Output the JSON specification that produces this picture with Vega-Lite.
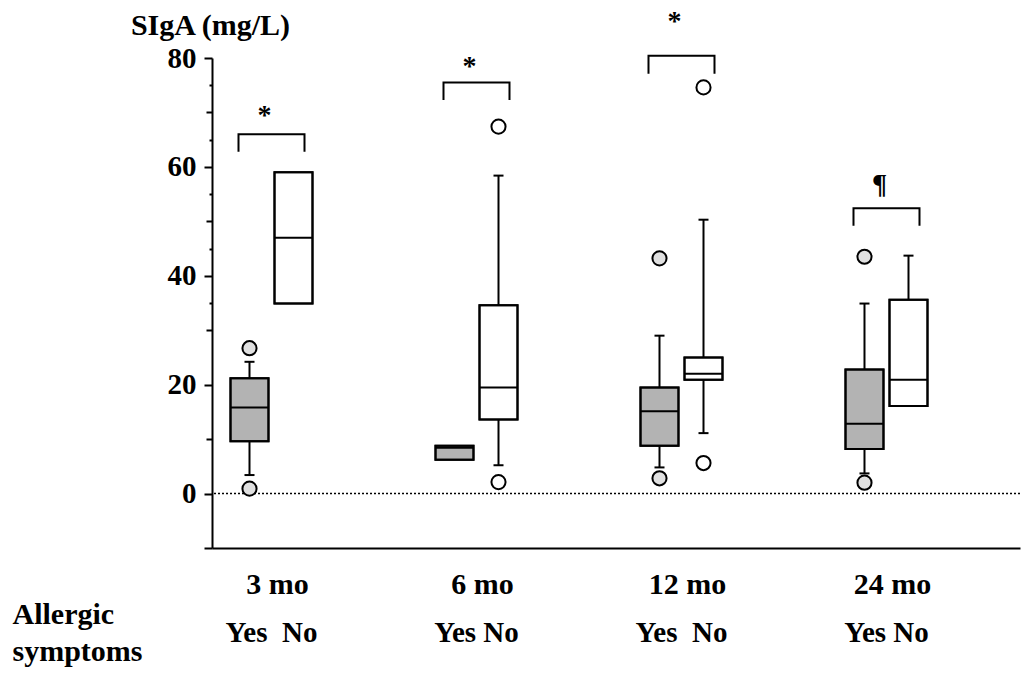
{
  "$schema": "https://vega.github.io/schema/vega-lite/v6.json",
  "width": 808,
  "height": 490,
  "autosize": {"type": "none"},
  "padding": {"left": 212, "top": 58, "right": 6, "bottom": 127},
  "background": "white",
  "config": {"view": {"stroke": null}, "font": "Liberation Serif"},
  "datasets": {
    "boxes": [
      {"time": "3 mo", "group": "Yes", "q1": 9.6, "median": 15.8, "q3": 21.2, "lo": 3.4, "hi": 24.2},
      {"time": "3 mo", "group": "No", "q1": 34.9, "median": 47.0, "q3": 59.0, "lo": null, "hi": null},
      {"time": "6 mo", "group": "Yes", "q1": 6.2, "median": 8.4, "q3": 8.8, "lo": null, "hi": null},
      {"time": "6 mo", "group": "No", "q1": 13.6, "median": 19.5, "q3": 34.6, "lo": 5.2, "hi": 58.4},
      {"time": "12 mo", "group": "Yes", "q1": 8.8, "median": 15.1, "q3": 19.5, "lo": 4.8, "hi": 29.0},
      {"time": "12 mo", "group": "No", "q1": 20.9, "median": 22.0, "q3": 25.0, "lo": 11.1, "hi": 50.3},
      {"time": "24 mo", "group": "Yes", "q1": 8.2, "median": 12.8, "q3": 22.8, "lo": 3.7, "hi": 34.9},
      {"time": "24 mo", "group": "No", "q1": 16.1, "median": 20.9, "q3": 35.6, "lo": null, "hi": 43.7}
    ],
    "outliers": [
      {"time": "3 mo", "group": "Yes", "value": 26.7},
      {"time": "3 mo", "group": "Yes", "value": 0.9},
      {"time": "6 mo", "group": "No", "value": 67.4},
      {"time": "6 mo", "group": "No", "value": 2.1},
      {"time": "12 mo", "group": "Yes", "value": 43.2},
      {"time": "12 mo", "group": "Yes", "value": 2.8},
      {"time": "12 mo", "group": "No", "value": 74.6},
      {"time": "12 mo", "group": "No", "value": 5.6},
      {"time": "24 mo", "group": "Yes", "value": 43.5},
      {"time": "24 mo", "group": "Yes", "value": 2.0}
    ],
    "brackets": [
      {"time": "3 mo", "end": "L", "pt": 1, "level": 62.8},
      {"time": "3 mo", "end": "L", "pt": 2, "level": 66.0},
      {"time": "3 mo", "end": "R", "pt": 3, "level": 66.0},
      {"time": "3 mo", "end": "R", "pt": 4, "level": 62.8},
      {"time": "6 mo", "end": "L", "pt": 1, "level": 72.3},
      {"time": "6 mo", "end": "L", "pt": 2, "level": 75.5},
      {"time": "6 mo", "end": "R", "pt": 3, "level": 75.5},
      {"time": "6 mo", "end": "R", "pt": 4, "level": 72.3},
      {"time": "12 mo", "end": "L", "pt": 1, "level": 77.1},
      {"time": "12 mo", "end": "L", "pt": 2, "level": 80.4},
      {"time": "12 mo", "end": "R", "pt": 3, "level": 80.4},
      {"time": "12 mo", "end": "R", "pt": 4, "level": 77.1},
      {"time": "24 mo", "end": "L", "pt": 1, "level": 49.2},
      {"time": "24 mo", "end": "L", "pt": 2, "level": 52.4},
      {"time": "24 mo", "end": "R", "pt": 3, "level": 52.4},
      {"time": "24 mo", "end": "R", "pt": 4, "level": 49.2}
    ],
    "notes": [
      {"time": "3 mo", "level": 67.9, "label": "*"},
      {"time": "6 mo", "level": 76.9, "label": "*"},
      {"time": "12 mo", "level": 85.1, "label": "*"},
      {"time": "24 mo", "level": 55.2, "label": "¶"}
    ],
    "sublabels": [
      {"time": "3 mo", "label": "Yes\u00a0 No"},
      {"time": "6 mo", "label": "Yes No"},
      {"time": "12 mo", "label": "Yes\u00a0 No"},
      {"time": "24 mo", "label": "Yes No"}
    ]
  },
  "encoding": {
    "x": {
      "field": "time",
      "type": "nominal",
      "sort": ["3 mo", "6 mo", "12 mo", "24 mo"],
      "scale": {"paddingInner": 0.5707, "paddingOuter": 0.2561, "align": 0.1476},
      "axis": {
        "title": ["Allergic", "symptoms"],
        "titleX": -200,
        "titleY": 75,
        "titleAlign": "left",
        "titleBaseline": "alphabetic",
        "titleLineHeight": 37,
        "titleFont": "Liberation Serif",
        "titleFontSize": 30,
        "titleFontWeight": "bold",
        "titleColor": "black",
        "labelAngle": 0,
        "labelFont": "Liberation Serif",
        "labelFontSize": 30,
        "labelFontWeight": "bold",
        "labelColor": "black",
        "labelBaseline": "alphabetic",
        "labelPadding": 45,
        "labelOffset": 6,
        "ticks": false,
        "tickSize": 0,
        "domainColor": "black",
        "domainWidth": 2,
        "grid": false
      }
    }
  },
  "resolve": {"scale": {"xOffset": "independent"}, "axis": {"y": "independent"}},
  "layer": [
    {
      "data": {"name": "boxes"},
      "mark": {"type": "bar", "size": 38, "stroke": "black", "strokeWidth": 2},
      "encoding": {
        "xOffset": {"field": "group", "type": "nominal", "sort": ["Yes", "No"], "scale": {"type": "band", "paddingInner": 0, "paddingOuter": 0}},
        "y": {
          "field": "q1",
          "type": "quantitative",
          "scale": {"domain": [-10, 80], "nice": false, "zero": false},
          "axis": {
            "orient": "left",
            "title": "SIgA (mg/L)",
            "titleAngle": 0,
            "titleAlign": "center",
            "titleBaseline": "alphabetic",
            "titleX": -2,
            "titleY": -24,
            "titleFont": "Liberation Serif",
            "titleFontSize": 30,
            "titleFontWeight": "bold",
            "titleColor": "black",
            "values": [-10, 0, 20, 40, 60, 80],
            "labelExpr": "datum.value >= 0 ? datum.label : ''",
            "labelFont": "Liberation Serif",
            "labelFontSize": 29,
            "labelFontWeight": "bold",
            "labelColor": "black",
            "labelPadding": 8,
            "labelOverlap": false,
            "labelFlush": false,
            "labelBound": false,
            "tickSize": 8,
            "tickColor": "black",
            "tickWidth": 2,
            "domainColor": "black",
            "domainWidth": 2,
            "grid": false
          }
        },
        "y2": {"field": "q3"},
        "fill": {"condition": {"test": "datum.group === 'Yes'", "value": "#b3b3b3"}, "value": "white"}
      }
    },
    {
      "data": {"values": [{"level": 0}]},
      "mark": {"type": "rule", "strokeDash": [2, 2], "strokeWidth": 1.5, "color": "black"},
      "encoding": {
        "x": null,
        "y": {
          "field": "level",
          "type": "quantitative",
          "axis": {"orient": "left", "title": null, "values": [10, 30, 50, 70], "labels": false, "domain": false, "grid": false, "tickSize": 6, "tickWidth": 2, "tickColor": "black"}
        }
      }
    },
    {
      "data": {"name": "boxes"},
      "mark": {"type": "rule", "strokeWidth": 2, "color": "black", "opacity": 1},
      "encoding": {
        "xOffset": {"field": "group", "type": "nominal", "sort": ["Yes", "No"], "scale": {"type": "band", "paddingInner": 0, "paddingOuter": 0}},
        "y": {
          "field": "hi",
          "type": "quantitative",
          "axis": {"orient": "left", "title": null, "values": [35, 45, 55, 65, 75], "labels": false, "domain": false, "grid": false, "tickSize": 3, "tickWidth": 2, "tickColor": "black"}
        },
        "y2": {"field": "q3"}
      }
    },
    {
      "data": {"name": "boxes"},
      "mark": {"type": "rule", "strokeWidth": 2, "color": "black", "opacity": 1},
      "encoding": {
        "xOffset": {"field": "group", "type": "nominal", "sort": ["Yes", "No"], "scale": {"type": "band", "paddingInner": 0, "paddingOuter": 0}},
        "y": {"field": "lo", "type": "quantitative", "axis": null},
        "y2": {"field": "q1"}
      }
    },
    {
      "data": {"name": "boxes"},
      "mark": {"type": "tick", "size": 10, "thickness": 2, "color": "black", "opacity": 1},
      "encoding": {
        "xOffset": {"field": "group", "type": "nominal", "sort": ["Yes", "No"], "scale": {"type": "band", "paddingInner": 0, "paddingOuter": 0}},
        "y": {"field": "hi", "type": "quantitative", "axis": null}
      }
    },
    {
      "data": {"name": "boxes"},
      "mark": {"type": "tick", "size": 10, "thickness": 2, "color": "black", "opacity": 1},
      "encoding": {
        "xOffset": {"field": "group", "type": "nominal", "sort": ["Yes", "No"], "scale": {"type": "band", "paddingInner": 0, "paddingOuter": 0}},
        "y": {"field": "lo", "type": "quantitative", "axis": null}
      }
    },
    {
      "data": {"name": "boxes"},
      "mark": {"type": "bar", "size": 38, "stroke": "black", "strokeWidth": 2, "fillOpacity": 0},
      "encoding": {
        "xOffset": {"field": "group", "type": "nominal", "sort": ["Yes", "No"], "scale": {"type": "band", "paddingInner": 0, "paddingOuter": 0}},
        "y": {"field": "q1", "type": "quantitative", "axis": null},
        "y2": {"field": "q3"}
      }
    },
    {
      "data": {"name": "boxes"},
      "mark": {"type": "tick", "size": 38, "thickness": 2, "color": "black", "opacity": 1},
      "encoding": {
        "xOffset": {"field": "group", "type": "nominal", "sort": ["Yes", "No"], "scale": {"type": "band", "paddingInner": 0, "paddingOuter": 0}},
        "y": {"field": "median", "type": "quantitative", "axis": null}
      }
    },
    {
      "data": {"name": "outliers"},
      "mark": {"type": "point", "shape": "circle", "size": 200, "filled": false, "stroke": "black", "strokeWidth": 2, "opacity": 1},
      "encoding": {
        "xOffset": {"field": "group", "type": "nominal", "sort": ["Yes", "No"], "scale": {"type": "band", "domain": ["Yes", "No"], "paddingInner": 0, "paddingOuter": 0}},
        "y": {"field": "value", "type": "quantitative", "axis": null},
        "fill": {"condition": {"test": "datum.group === 'Yes'", "value": "#e0e0e0"}, "value": "white"}
      }
    },
    {
      "data": {"name": "brackets"},
      "mark": {"type": "line", "strokeWidth": 2, "color": "black", "xOffset": -7, "interpolate": "linear"},
      "encoding": {
        "xOffset": {"field": "end", "type": "nominal", "scale": {"type": "band", "domain": ["L", "R"], "paddingInner": 1, "paddingOuter": 0.1667}},
        "y": {"field": "level", "type": "quantitative", "axis": null},
        "order": {"field": "pt", "type": "quantitative"},
        "detail": {"field": "time", "type": "nominal"}
      }
    },
    {
      "data": {"name": "notes"},
      "mark": {"type": "text", "font": "Liberation Serif", "fontSize": 28, "fontWeight": "bold", "color": "black", "baseline": "alphabetic", "align": "center", "xOffset": -7},
      "encoding": {
        "y": {"field": "level", "type": "quantitative", "axis": null},
        "text": {"field": "label"}
      }
    },
    {
      "data": {"name": "sublabels"},
      "mark": {"type": "text", "font": "Liberation Serif", "fontSize": 29, "fontWeight": "bold", "color": "black", "baseline": "alphabetic", "align": "center"},
      "encoding": {
        "y": {"datum": -27.2, "type": "quantitative", "axis": null},
        "text": {"field": "label"}
      }
    }
  ]
}
